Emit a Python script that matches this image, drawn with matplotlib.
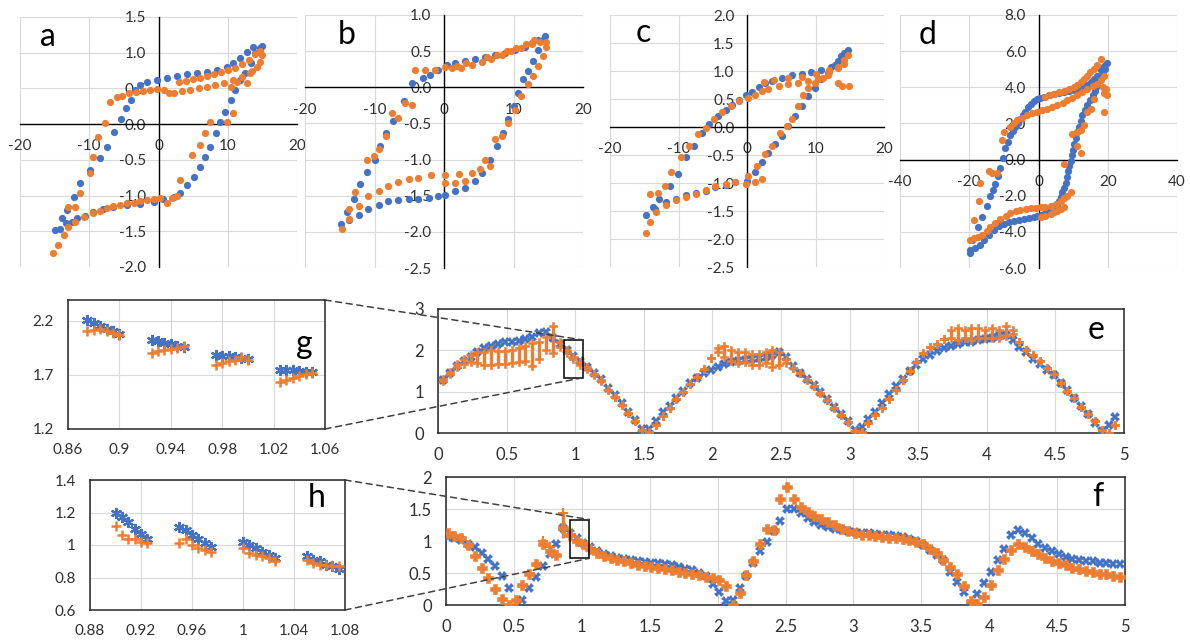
import matplotlib
matplotlib.use("Agg")
import matplotlib.pyplot as plt
import numpy as np
from matplotlib.patches import Rectangle, ConnectionPatch
from matplotlib.ticker import FormatStrFormatter, FuncFormatter

plt.rcParams["font.family"] = ["Lato", "DejaVu Sans"]
plt.rcParams["axes.unicode_minus"] = False

BLUE = "#4472C4"
ORANGE = "#ED7D31"
GRID = "#d9d9d9"
TXT = "#303030"
nan = np.nan

# ---------------------------------------------------------------
# Paneles a-d: lazos (x, y)
# ---------------------------------------------------------------
a_blue = [(-3.9, 0.34), (-4.7, 0.22), (-5.4, 0.07), (-6.4, -0.11), (-7.5, -0.32), (-8.5, -0.48),
          (-9.9, -0.64), (-11.3, -0.83), (-12.2, -1.02), (-13.2, -1.20), (-14.0, -1.32), (-15.0, -1.48),
          (-14.2, -1.47), (-13.3, -1.39), (-12.5, -1.37), (-11.7, -1.32), (-10.6, -1.29), (-9.4, -1.23),
          (-8.0, -1.19), (-6.5, -1.16), (-4.6, -1.13), (-2.7, -1.12), (-0.7, -1.09), (0.7, -1.05),
          (2.2, -1.02), (3.1, -0.96), (4.1, -0.85), (5.1, -0.74), (6.0, -0.60), (6.7, -0.46),
          (7.5, -0.32), (8.3, -0.13), (8.9, 0.03), (9.6, 0.17), (10.4, 0.34), (11.1, 0.48),
          (11.8, 0.62), (12.5, 0.71), (13.3, 0.85), (14.0, 0.99), (14.6, 1.07), (15.0, 1.10),
          (13.7, 1.08), (12.8, 1.01), (11.8, 0.92), (10.8, 0.85), (9.9, 0.80), (8.4, 0.76),
          (7.0, 0.73), (5.5, 0.71), (4.1, 0.70), (2.7, 0.67), (1.2, 0.64), (-0.2, 0.62),
          (-1.7, 0.59), (-2.7, 0.55), (-3.4, 0.48)]
a_orange = [(-15.2, -1.81), (-14.5, -1.69), (-13.7, -1.55), (-13.0, -1.44), (-12.0, -1.37), (-10.8, -1.30),
            (-9.4, -1.24), (-8.4, -1.21), (-7.5, -1.18), (-6.5, -1.15), (-5.5, -1.13), (-4.5, -1.11),
            (-3.6, -1.10), (-2.6, -1.08), (-1.7, -1.06), (-0.7, -1.05), (0.2, -1.04), (1.2, -1.10),
            (2.0, -1.03), (2.7, -1.00), (3.1, -0.78), (4.8, -0.43), (6.0, -0.29), (6.7, -0.13),
            (7.5, 0.03), (9.9, 0.03), (10.8, 0.15), (10.4, 0.52), (11.4, 0.59), (12.8, 0.57),
            (13.5, 0.75), (14.7, 0.87), (15.0, 0.97), (14.7, 1.03), (14.0, 0.98), (13.0, 0.90),
            (12.0, 0.84), (11.0, 0.79), (10.0, 0.76), (9.0, 0.73), (8.0, 0.70), (7.0, 0.67),
            (6.0, 0.65), (5.0, 0.63), (4.0, 0.61), (3.0, 0.59), (14.2, 0.80), (13.2, 0.72),
            (12.0, 0.66), (10.8, 0.62), (9.5, 0.58), (8.2, 0.55), (7.0, 0.52), (5.8, 0.50),
            (4.6, 0.48), (3.4, 0.46), (2.2, 0.44), (1.5, 0.43), (0.8, 0.48), (-0.2, 0.49),
            (-1.2, 0.48), (-2.2, 0.47), (-3.2, 0.45), (-4.2, 0.43), (-5.2, 0.40), (-6.0, 0.38),
            (-7.0, 0.31), (-7.7, 0.01), (-8.7, -0.18), (-9.4, -0.46), (-9.9, -0.69), (-11.3, -0.97),
            (-12.0, -1.16), (-13.0, -1.16)]

b_blue = [(14.5, 0.71), (13.5, 0.66), (12.6, 0.61), (11.6, 0.56), (10.2, 0.52), (8.8, 0.47),
          (7.3, 0.45), (5.9, 0.42), (4.4, 0.39), (3.0, 0.37), (1.6, 0.33), (0.4, 0.31),
          (-0.8, 0.24), (-2.0, 0.17), (-3.0, 0.13), (-4.6, 0.06), (-5.8, -0.19), (-7.4, -0.47),
          (-8.4, -0.63), (-9.2, -0.81), (-10.0, -1.00), (-11.1, -1.17), (-12.1, -1.34), (-13.0, -1.55),
          (-14.0, -1.73), (-14.8, -1.89), (-13.7, -1.84), (-12.3, -1.77), (-10.9, -1.68), (-9.4, -1.63),
          (-8.0, -1.58), (-6.6, -1.56), (-5.1, -1.55), (-3.7, -1.54), (-2.2, -1.53), (-0.8, -1.51),
          (0.1, -1.49), (1.6, -1.44), (3.0, -1.39), (4.4, -1.29), (5.4, -1.18), (6.6, -1.00),
          (7.6, -0.81), (8.5, -0.63), (9.2, -0.44), (10.0, -0.26), (10.7, -0.08), (11.4, 0.11),
          (12.1, 0.22), (12.8, 0.36), (13.5, 0.52), (14.3, 0.66)]
b_orange = [(14.7, 0.62), (13.8, 0.63), (12.6, 0.60), (11.1, 0.54), (9.7, 0.50), (8.3, 0.44),
            (6.8, 0.39), (5.4, 0.35), (4.0, 0.31), (2.5, 0.27), (1.1, 0.27), (0.1, 0.28),
            (-1.3, 0.24), (-2.7, 0.24), (-4.2, 0.24), (13.0, 0.66), (11.8, 0.60), (10.4, 0.55),
            (9.0, 0.50), (7.6, 0.45), (6.2, 0.42), (3.2, 0.33), (1.8, 0.30), (-4.6, -0.24),
            (-5.6, -0.22), (-6.6, -0.42), (-7.5, -0.35), (-8.4, -0.67), (-9.4, -0.86), (-10.1, -0.95),
            (-11.1, -1.00), (-12.8, -1.45), (-13.7, -1.68), (-14.7, -1.96), (-13.7, -1.82), (-12.3, -1.64),
            (-10.9, -1.50), (-9.4, -1.43), (-8.0, -1.36), (-6.6, -1.31), (-5.1, -1.27), (-3.7, -1.25),
            (-1.8, -1.22), (0.1, -1.22), (2.1, -1.20), (4.0, -1.18), (5.2, -1.13), (5.9, -1.00),
            (6.6, -1.09), (7.3, -0.72), (8.3, -0.67), (9.2, -0.49), (10.2, -0.31), (11.1, -0.12),
            (12.1, 0.04), (12.8, 0.15), (13.5, 0.29), (14.3, 0.43), (14.7, 0.56), (0.1, -1.33),
            (1.6, -1.32), (3.0, -1.29)]

c_blue = [(0.0, -0.96), (1.2, -0.81), (2.2, -0.63), (3.1, -0.46), (4.1, -0.31), (5.1, -0.16),
          (6.0, 0.02), (7.0, 0.20), (8.0, 0.37), (8.9, 0.55), (9.9, 0.70), (10.8, 0.85),
          (11.8, 0.96), (12.8, 1.11), (13.7, 1.26), (14.7, 1.38), (14.2, 1.32), (13.3, 1.17),
          (12.3, 1.08), (10.8, 1.02), (9.4, 0.99), (8.0, 0.95), (6.5, 0.92), (5.1, 0.88),
          (3.6, 0.83), (2.7, 0.79), (1.7, 0.72), (0.7, 0.62), (-0.2, 0.58), (-1.2, 0.49),
          (-2.2, 0.40), (-3.1, 0.31), (-4.3, 0.20), (-5.5, 0.05), (-6.5, -0.10), (-7.7, -0.34),
          (-8.9, -0.54), (-10.1, -0.84), (-11.3, -1.05), (-12.8, -1.28), (-13.7, -1.43), (-14.7, -1.58),
          (-13.5, -1.46), (-11.8, -1.34), (-10.4, -1.28), (-8.9, -1.22), (-7.5, -1.17), (-6.0, -1.14),
          (-4.6, -1.08), (-3.1, -1.04), (-1.7, -0.99)]
c_orange = [(-14.7, -1.90), (-14.2, -1.70), (-13.3, -1.52), (-11.8, -1.40), (-10.4, -1.31), (-8.9, -1.25),
            (-7.5, -1.20), (-6.0, -1.12), (-4.6, -1.06), (-3.1, -1.02), (-1.7, -0.99), (-0.2, -1.02),
            (1.2, -0.98), (2.2, -0.93), (0.2, -0.87), (1.4, -0.69), (2.7, -0.49), (3.6, -0.34),
            (4.8, -0.10), (5.8, 0.02), (6.5, 0.14), (7.5, 0.37), (8.2, 0.58), (8.9, 0.70),
            (9.9, 0.79), (11.1, 0.88), (12.0, 0.98), (13.3, 1.08), (14.2, 1.20), (14.7, 1.29),
            (13.3, 0.79), (13.9, 0.74), (14.9, 0.73), (14.2, 1.12), (13.3, 1.05), (11.8, 0.93),
            (10.4, 0.85), (8.9, 0.82), (7.5, 0.79), (6.0, 0.76), (4.6, 0.73), (3.1, 0.68),
            (2.2, 0.64), (1.2, 0.58), (0.2, 0.52), (-1.2, 0.46), (-2.4, 0.37), (-3.6, 0.27),
            (-4.8, 0.14), (-6.0, -0.01), (-7.2, -0.13), (-8.4, -0.34), (-9.6, -0.54), (-11.1, -0.81),
            (-12.0, -1.05), (-13.0, -1.17), (-14.2, -1.20), (2.5, 0.80), (4.0, 0.84), (6.0, 0.87),
            (8.0, 0.90), (10.0, 0.95), (12.0, 1.02)]

d_blue = [(-19.9, -5.18), (-18.3, -4.91), (-17.0, -4.70), (-15.8, -4.45), (-14.3, -4.15), (-12.9, -3.91),
          (-11.5, -3.70), (-10.0, -3.55), (-8.5, -3.47), (-7.1, -3.40), (-5.7, -3.33), (-4.3, -3.27),
          (-2.8, -3.22), (-1.4, -3.18), (-0.4, -3.14), (0.6, -3.09), (1.5, -3.00), (2.5, -2.91),
          (3.5, -2.80), (4.4, -2.64), (5.2, -2.48), (5.9, -2.27), (6.4, -2.05), (6.9, -1.82),
          (7.3, -1.55), (7.8, -1.27), (8.1, -0.95), (8.5, -0.64), (8.9, -0.35), (9.3, -0.09),
          (9.6, 0.25), (10.0, 0.55), (10.3, 0.85), (10.7, 1.18), (11.2, 1.50), (11.7, 1.82),
          (12.2, 2.15), (12.7, 2.45), (13.4, 2.75), (14.1, 3.00), (14.8, 3.30), (15.6, 3.55),
          (16.3, 3.80), (17.0, 4.09), (17.7, 4.40), (18.5, 4.73), (19.2, 5.00), (19.9, 5.36),
          (18.9, 5.18), (18.0, 4.95), (17.0, 4.64), (16.0, 4.45), (15.1, 4.27), (14.1, 4.15),
          (13.1, 4.05), (11.6, 3.95), (10.2, 3.87), (8.7, 3.82), (7.3, 3.76), (5.8, 3.70),
          (4.4, 3.64), (3.0, 3.55), (1.5, 3.45), (0.5, 3.40), (-0.4, 3.36), (-1.4, 3.25),
          (-2.3, 3.09), (-3.0, 2.90), (-3.8, 2.64), (-4.5, 2.45), (-5.2, 2.27), (-6.0, 2.05),
          (-6.7, 1.82), (-7.4, 1.60), (-8.1, 1.36), (-8.8, 1.00), (-9.6, 0.64), (-10.3, 0.10),
          (-11.0, -0.45), (-11.7, -0.90), (-12.5, -1.36), (-13.2, -1.70), (-13.9, -2.00), (-14.9, -2.55),
          (-16.3, -3.18), (-17.6, -3.73), (-19.2, -4.45), (-19.7, -5.00)]
d_orange = [(18.0, 5.55), (16.0, 5.00), (14.1, 4.64), (12.2, 4.27), (10.2, 4.00), (7.3, 3.82),
            (4.4, 3.64), (2.0, 3.45), (17.0, 5.25), (15.0, 4.82), (13.1, 4.45), (11.2, 4.12),
            (8.7, 3.90), (5.8, 3.72), (3.2, 3.55), (18.9, 4.64), (17.0, 4.18), (14.1, 3.91),
            (11.2, 3.55), (8.3, 3.27), (5.4, 3.04), (2.5, 2.82), (-0.4, 2.64), (-3.3, 2.45),
            (-6.2, 2.18), (-8.1, 1.82), (-10.0, 1.55), (-10.5, 1.09), (18.0, 4.40), (15.6, 4.05),
            (12.7, 3.72), (9.8, 3.42), (7.0, 3.15), (4.0, 2.93), (1.0, 2.73), (-1.8, 2.55),
            (-4.8, 2.30), (-7.0, 2.00), (19.4, 3.90), (19.9, 3.55), (18.9, 2.64), (19.0, 3.70),
            (18.5, 4.00), (7.3, -0.27), (9.8, 1.40), (11.2, 1.55), (12.2, 1.64), (11.2, 0.73),
            (12.4, 0.36), (14.1, 2.64), (15.1, 2.82), (16.0, 3.36), (13.2, 1.90), (-12.0, -0.73),
            (-13.4, -0.73), (-14.4, -0.64), (-16.8, -1.27), (-17.3, -2.27), (-18.7, -3.36), (-19.9, -4.45),
            (-18.7, -4.36), (-16.3, -4.18), (-13.9, -3.73), (-11.0, -3.27), (-8.1, -2.96), (-5.2, -2.78),
            (-2.3, -2.67), (0.6, -2.64), (3.5, -2.55), (6.4, -2.31), (8.3, -2.00), (9.3, -1.82),
            (-17.5, -4.30), (-15.0, -3.95), (-12.5, -3.50), (-9.5, -3.10), (-6.6, -2.86), (-3.7, -2.72),
            (-0.8, -2.66), (2.0, -2.60), (5.0, -2.45), (7.4, -2.15), (0.6, -3.18), (3.5, -3.00),
            (5.4, -2.82), (7.3, -2.64), (2.0, -3.10), (4.4, -2.90), (6.4, -2.73)]

# ---------------------------------------------------------------
# Panel e: tiempo, serie azul y serie naranja (mín / máx de cada grupo)
# ---------------------------------------------------------------
e_t = [0.0375, 0.0875, 0.1375, 0.1875, 0.2375, 0.2875, 0.3375, 0.3875, 0.4375, 0.4875,
       0.5375, 0.5875, 0.6375, 0.6875, 0.7375, 0.7875, 0.8375, 0.8875, 0.9375, 0.9875,
       1.0375, 1.0875, 1.1375, 1.1875, 1.2375, 1.2875, 1.3375, 1.3875, 1.4375, 1.4875,
       1.5375, 1.5875, 1.6375, 1.6875, 1.7375, 1.7875, 1.8375, 1.8875, 1.9375, 1.9875,
       2.0375, 2.0875, 2.1375, 2.1875, 2.2375, 2.2875, 2.3375, 2.3875, 2.4375, 2.4875,
       2.5375, 2.5875, 2.6375, 2.6875, 2.7375, 2.7875, 2.8375, 2.8875, 2.9375, 2.9875,
       3.0375, 3.0875, 3.1375, 3.1875, 3.2375, 3.2875, 3.3375, 3.3875, 3.4375, 3.4875,
       3.5375, 3.5875, 3.6375, 3.6875, 3.7375, 3.7875, 3.8375, 3.8875, 3.9375, 3.9875,
       4.0375, 4.0875, 4.1375, 4.1875, 4.2375, 4.2875, 4.3375, 4.3875, 4.4375, 4.4875,
       4.5375, 4.5875, 4.6375, 4.6875, 4.7375, 4.7875, 4.8375, 4.8875, 4.9375]
e_blue = [1.28, 1.45, 1.62, 1.74, 1.85, 1.97, 2.06, 2.11, 2.15, 2.19,
          2.21, 2.23, 2.27, 2.32, 2.42, 2.45, 2.30, 2.15, 2.00, 1.87,
          1.74, 1.60, 1.45, 1.30, 1.10, 0.93, 0.72, 0.52, 0.32, 0.10,
          0.10, 0.30, 0.50, 0.65, 0.85, 1.02, 1.20, 1.33, 1.45, 1.53,
          1.60, 1.66, 1.71, 1.74, 1.77, 1.79, 1.81, 1.85, 1.89, 1.97,
          1.85, 1.62, 1.46, 1.31, 1.17, 0.99, 0.82, 0.64, 0.46, 0.28,
          0.08, 0.14, 0.35, 0.52, 0.72, 0.95, 1.13, 1.30, 1.49, 1.65,
          1.78, 1.89, 1.99, 2.05, 2.11, 2.15, 2.19, 2.21, 2.25, 2.28,
          2.31, 2.35, 2.37, 2.25, 2.07, 1.95, 1.80, 1.66, 1.53, 1.40,
          1.22, 1.04, 0.84, 0.66, 0.46, 0.24, 0.04, 0.20, 0.38]
e_orange_lo = [1.25, 1.42, 1.60, 1.68, 1.72, 1.69, 1.65, 1.65, 1.66, 1.68,
               1.69, 1.72, 1.73, 1.62, 1.80, 2.00, 1.93, 2.08, 1.93, 1.80,
               1.64, 1.55, 1.40, 1.25, 1.05, 0.88, 0.68, 0.48, 0.30, 0.08,
               0.03, 0.20, 0.42, 0.60, 0.82, 0.98, 1.18, 1.35, 1.55, 1.82,
               1.95, 1.85, 1.75, 1.70, 1.72, 1.65, 1.65, 1.70, 1.60, 1.65,
               1.70, 1.58, 1.44, 1.29, 1.13, 0.96, 0.79, 0.61, 0.44, 0.27,
               0.05, 0.02, 0.25, 0.44, 0.60, 0.82, 1.05, 1.29, 1.50, 1.71,
               1.93, 2.09, 2.15, 2.28, 2.30, 2.25, 2.30, 2.25, 2.30, 2.30,
               2.30, 2.30, 2.35, 2.40, 2.20, 2.00, 1.89, 1.75, 1.58, 1.42,
               1.22, 1.02, 0.84, 0.64, 0.46, 0.28, 0.08, 0.00, 0.20]
e_orange_hi = [1.30, 1.48, 1.68, 1.80, 1.88, 1.95, 1.97, 2.00, 1.98, 1.99,
               2.00, 2.05, 2.10, 2.18, 2.20, 2.32, 2.60, 2.20, 2.00, 1.85,
               1.72, 1.60, 1.43, 1.28, 1.05, 0.88, 0.68, 0.48, 0.30, 0.08,
               0.03, 0.20, 0.42, 0.60, 0.82, 0.98, 1.18, 1.35, 1.55, 1.82,
               2.05, 2.10, 2.02, 1.95, 1.95, 1.90, 1.90, 1.95, 2.02, 1.95,
               1.78, 1.58, 1.44, 1.29, 1.13, 0.96, 0.79, 0.61, 0.44, 0.27,
               0.05, 0.02, 0.25, 0.44, 0.60, 0.82, 1.05, 1.29, 1.50, 1.71,
               1.93, 2.09, 2.15, 2.28, 2.50, 2.55, 2.50, 2.55, 2.55, 2.50,
               2.55, 2.50, 2.60, 2.50, 2.20, 2.00, 1.89, 1.75, 1.58, 1.42,
               1.22, 1.02, 0.84, 0.64, 0.46, 0.28, 0.08, 0.00, 0.20]

# ---------------------------------------------------------------
# Panel f
# ---------------------------------------------------------------
f_t = [0.0125, 0.0625, 0.1125, 0.1625, 0.2125, 0.2625, 0.3125, 0.3625, 0.4125, 0.4625,
       0.5125, 0.5625, 0.6125, 0.6625, 0.7125, 0.7625, 0.8125, 0.8625, 0.9125, 0.9625,
       1.0125, 1.0625, 1.1125, 1.1625, 1.2125, 1.2625, 1.3125, 1.3625, 1.4125, 1.4625,
       1.5125, 1.5625, 1.6125, 1.6625, 1.7125, 1.7625, 1.8125, 1.8625, 1.9125, 1.9625,
       2.0125, 2.0625, 2.1125, 2.1625, 2.2125, 2.2625, 2.3125, 2.3625, 2.4125, 2.4625,
       2.5125, 2.5625, 2.6125, 2.6625, 2.7125, 2.7625, 2.8125, 2.8625, 2.9125, 2.9625,
       3.0125, 3.0625, 3.1125, 3.1625, 3.2125, 3.2625, 3.3125, 3.3625, 3.4125, 3.4625,
       3.5125, 3.5625, 3.6125, 3.6625, 3.7125, 3.7625, 3.8125, 3.8625, 3.9125, 3.9625,
       4.0125, 4.0625, 4.1125, 4.1625, 4.2125, 4.2625, 4.3125, 4.3625, 4.4125, 4.4625,
       4.5125, 4.5625, 4.6125, 4.6625, 4.7125, 4.7625, 4.8125, 4.8625, 4.9125, 4.9625]
f_blue = [1.06, 1.05, 1.01, 0.96, 0.91, 0.82, 0.72, 0.61, 0.46, 0.27,
          nan, 0.08, 0.27, 0.44, 0.61, 0.80, 0.96, 1.20, 1.12, 1.05,
          0.97, 0.90, 0.84, 0.80, 0.77, 0.74, 0.72, 0.70, 0.68, 0.67,
          0.66, 0.65, 0.64, 0.62, 0.60, 0.57, 0.54, 0.50, 0.46, 0.33,
          0.20, 0.06, 0.08, 0.26, 0.45, 0.65, 0.84, 0.99, 1.15, 1.32,
          1.50, 1.50, 1.43, 1.36, 1.30, 1.25, 1.22, 1.19, 1.17, 1.15,
          1.14, 1.13, 1.12, 1.11, 1.10, 1.09, 1.08, 1.06, 1.03, 1.00,
          0.94, 0.86, 0.78, 0.70, 0.52, 0.36, 0.21, 0.00, 0.17, 0.35,
          0.52, 0.70, 0.88, 1.09, 1.17, 1.12, 1.04, 0.96, 0.89, 0.84,
          0.79, 0.75, 0.72, 0.70, 0.69, 0.68, 0.66, 0.65, 0.64, 0.64]
f_orange = [1.12, 1.08, 1.05, 0.94, 0.77, 0.58, 0.42, 0.25, 0.09, 0.00,
            0.08, 0.31, 0.48, 0.64, 0.95, 0.85, 0.78, 1.20, 1.09, 1.00,
            0.95, 0.88, 0.82, 0.77, 0.74, 0.71, 0.69, 0.66, 0.63, 0.61,
            0.60, 0.58, 0.56, 0.54, 0.52, 0.50, 0.49, 0.47, 0.44, 0.42,
            0.39, 0.29, 0.00, 0.18, 0.47, 0.68, 0.96, 1.19, 1.17, 1.66,
            1.84, 1.66, 1.53, 1.45, 1.39, 1.35, 1.30, 1.25, 1.19, 1.15,
            1.13, 1.10, 1.09, 1.08, 1.06, 1.05, 1.04, 1.03, 1.01, 0.99,
            0.95, 0.88, 0.81, 0.71, 0.60, 0.48, 0.29, 0.06, 0.01, 0.13,
            0.32, 0.55, 0.72, 0.86, 0.96, 0.91, 0.84, 0.79, 0.73, 0.69,
            0.65, 0.62, 0.58, 0.56, 0.53, 0.51, 0.49, 0.48, 0.46, 0.43]
f_bar_t = [0.7125, 0.7625, 0.8625]
f_bar_lo = [0.90, 0.78, 1.05]
f_bar_hi = [1.00, 0.91, 1.44]

# ---------------------------------------------------------------
# Ampliaciones g y h
# ---------------------------------------------------------------
g_t = [0.875, 0.880, 0.885, 0.890, 0.895, 0.900, 0.925, 0.930, 0.935, 0.940, 0.945, 0.950,
       0.975, 0.980, 0.985, 0.990, 0.995, 1.000, 1.025, 1.030, 1.035, 1.040, 1.045, 1.050]
g_blue = [2.21, 2.18, 2.15, 2.12, 2.10, 2.08, 2.02, 2.01, 1.99, 1.98, 1.97, 1.96,
          1.88, 1.875, 1.87, 1.86, 1.855, 1.85, 1.745, 1.74, 1.74, 1.735, 1.73, 1.73]
g_orange = [2.10, 2.11, 2.12, 2.10, 2.09, 2.07, 1.90, 1.92, 1.93, 1.94, 1.95, 1.97,
            1.79, 1.81, 1.83, 1.84, 1.86, 1.84, 1.63, 1.65, 1.67, 1.69, 1.71, 1.72]

h_t = [0.900, 0.905, 0.910, 0.915, 0.920, 0.925, 0.950, 0.955, 0.960, 0.965, 0.970, 0.975,
       1.000, 1.005, 1.010, 1.015, 1.020, 1.025, 1.050, 1.055, 1.060, 1.065, 1.070, 1.075]
h_blue = [1.20, 1.17, 1.14, 1.10, 1.07, 1.04, 1.11, 1.09, 1.06, 1.04, 1.01, 0.99,
          1.02, 1.00, 0.98, 0.96, 0.94, 0.92, 0.93, 0.91, 0.90, 0.88, 0.87, 0.85]
h_orange = [1.12, 1.06, 1.04, 1.04, 1.02, 1.01, 1.01, 1.04, 1.00, 0.98, 0.97, 0.96,
            0.98, 0.95, 0.94, 0.93, 0.92, 0.90, 0.91, 0.89, 0.88, 0.88, 0.87, 0.87]

W, H = 1190, 641
fig = plt.figure(figsize=(W / 100, H / 100), dpi=100)


def px_rect(x0, y0, x1, y1):
    return [x0 / W, 1 - y1 / H, (x1 - x0) / W, (y1 - y0) / H]


def num_fmt(v, _pos):
    return f"{round(v, 6):g}"


def loop_panel(rect, blue, orange, xlim, xstep, ylim, ystep, letter, lpos):
    ax = fig.add_axes(px_rect(*rect))
    bx, by = zip(*blue)
    ox, oy = zip(*orange)
    ax.plot(bx, by, "o", color=BLUE, ms=5.2, mew=0, zorder=3, clip_on=False)
    ax.plot(ox, oy, "o", color=ORANGE, ms=5.2, mew=0, zorder=4, clip_on=False)
    ax.set_xlim(xlim)
    ax.set_ylim(ylim)
    ax.set_xticks(np.arange(xlim[0], xlim[1] + xstep / 2, xstep))
    ax.set_yticks(np.arange(ylim[0], ylim[1] + ystep / 2, ystep))
    ax.xaxis.set_major_formatter(FuncFormatter(num_fmt))
    ax.yaxis.set_major_formatter(FormatStrFormatter("%.1f"))
    ax.spines["left"].set_position("zero")
    ax.spines["bottom"].set_position("zero")
    ax.spines["top"].set_visible(False)
    ax.spines["right"].set_visible(False)
    for s in ("left", "bottom"):
        ax.spines[s].set_color("black")
        ax.spines[s].set_linewidth(1.0)
        ax.spines[s].set_zorder(2)
    ax.grid(True, color=GRID, lw=0.8)
    ax.set_axisbelow(True)
    ax.tick_params(axis="x", length=0, pad=11, labelsize=11, labelcolor=TXT)
    ax.tick_params(axis="y", length=0, pad=9, labelsize=11, labelcolor=TXT)
    ax.text(lpos[0], lpos[1], letter, transform=ax.transAxes, fontsize=23,
            ha="center", va="center", color="black")
    return ax


loop_panel((20, 17, 297, 267), a_blue, a_orange, (-20, 20), 10, (-2.0, 1.5), 0.5, "a", (0.10, 0.92))
loop_panel((305, 15, 583, 268), b_blue, b_orange, (-20, 20), 10, (-2.5, 1.0), 0.5, "b", (0.15, 0.92))
loop_panel((610, 15, 884, 267), c_blue, c_orange, (-20, 20), 10, (-2.5, 2.0), 0.5, "c", (0.12, 0.93))
loop_panel((900, 15, 1177, 268), d_blue, d_orange, (-40, 40), 20, (-6.0, 8.0), 2.0, "d", (0.10, 0.92))


def boxed_panel(rect, xlim, xticks, ylim, yticks, letter, lpos, fs=11):
    ax = fig.add_axes(px_rect(*rect))
    ax.set_xlim(xlim)
    ax.set_ylim(ylim)
    ax.set_xticks(xticks)
    ax.set_yticks(yticks)
    ax.xaxis.set_major_formatter(FuncFormatter(num_fmt))
    ax.yaxis.set_major_formatter(FuncFormatter(num_fmt))
    ax.grid(True, color=GRID, lw=0.8)
    ax.set_axisbelow(True)
    for s in ax.spines.values():
        s.set_color("#262626")
        s.set_linewidth(1.1)
    ax.tick_params(axis="x", length=0, pad=10, labelsize=fs, labelcolor=TXT)
    ax.tick_params(axis="y", length=0, pad=10, labelsize=fs, labelcolor=TXT)
    ax.text(lpos[0], lpos[1], letter, transform=ax.transAxes, fontsize=23,
            ha="center", va="center", color="black", zorder=10)
    return ax


# e
ax_e = boxed_panel((438, 309, 1124, 433), (0, 5), np.arange(0, 5.01, 0.5), (0, 3), [0, 1, 2, 3],
                   "e", (0.96, 0.83), fs=12)
ax_e.plot(e_t, e_blue, ls="none", marker="X", ms=6.5, mew=0, color=BLUE, zorder=3)
ax_e.vlines(e_t, e_orange_lo, e_orange_hi, color=ORANGE, lw=2.4, zorder=4)
ax_e.plot(e_t, e_orange_lo, ls="none", marker="P", ms=6.2, mew=0.4, color=ORANGE, zorder=4)
ax_e.plot(e_t, e_orange_hi, ls="none", marker="P", ms=6.2, mew=0.4, color=ORANGE, zorder=4)

# f
ax_f = boxed_panel((446, 477, 1125, 605), (0, 5), np.arange(0, 5.01, 0.5), (0, 2), np.arange(0, 2.01, 0.5),
                   "f", (0.96, 0.84), fs=12)
ax_f.plot(f_t, f_blue, ls="none", marker="X", ms=6.5, mew=0, color=BLUE, zorder=3)
ax_f.plot(f_t, f_orange, ls="none", marker="P", ms=6.5, mew=0.4, color=ORANGE, zorder=4)
ax_f.vlines(f_bar_t, f_bar_lo, f_bar_hi, color=ORANGE, lw=2.4, zorder=4)
ax_f.plot(f_bar_t, f_bar_hi, ls="none", marker="+", ms=7, mew=1.5, color=ORANGE, zorder=4)

# g
ax_g = boxed_panel((68, 300, 325, 429), (0.86, 1.06), np.arange(0.86, 1.0601, 0.04), (1.2, 2.39),
                   [1.2, 1.7, 2.2], "g", (0.92, 0.66))
ax_g.plot(g_t, g_blue, ls="none", marker=(6, 2, 0), ms=8, mew=1.6, color=BLUE, zorder=3)
ax_g.plot(g_t, g_orange, ls="none", marker="+", ms=7.5, mew=1.8, color=ORANGE, zorder=4)

# h
ax_h = boxed_panel((90, 480, 345, 610), (0.88, 1.08), np.arange(0.88, 1.0801, 0.04), (0.6, 1.4),
                   np.arange(0.6, 1.401, 0.2), "h", (0.89, 0.86))
ax_h.plot(h_t, h_blue, ls="none", marker=(6, 2, 0), ms=8, mew=1.6, color=BLUE, zorder=3)
ax_h.plot(h_t, h_orange, ls="none", marker="+", ms=7.5, mew=1.8, color=ORANGE, zorder=4)

# recuadros de zoom y líneas discontinuas
zooms = [(ax_e, ax_g, (0.915, 1.34), (1.058, 2.25)), (ax_f, ax_h, (0.91, 0.73), (1.056, 1.335))]
for big, small, (x0, y0), (x1, y1) in zooms:
    big.add_patch(Rectangle((x0, y0), x1 - x0, y1 - y0, fill=False, ec="black", lw=1.1, zorder=6))
    for ya, yb in ((1, y1), (0, y0)):
        con = ConnectionPatch(xyA=(1, ya), coordsA=small.transAxes, xyB=(x1, yb), coordsB=big.transData,
                              ls=(0, (4, 3)), color="#404040", lw=1.1)
        fig.add_artist(con)

fig.savefig("out.png", dpi=100)
